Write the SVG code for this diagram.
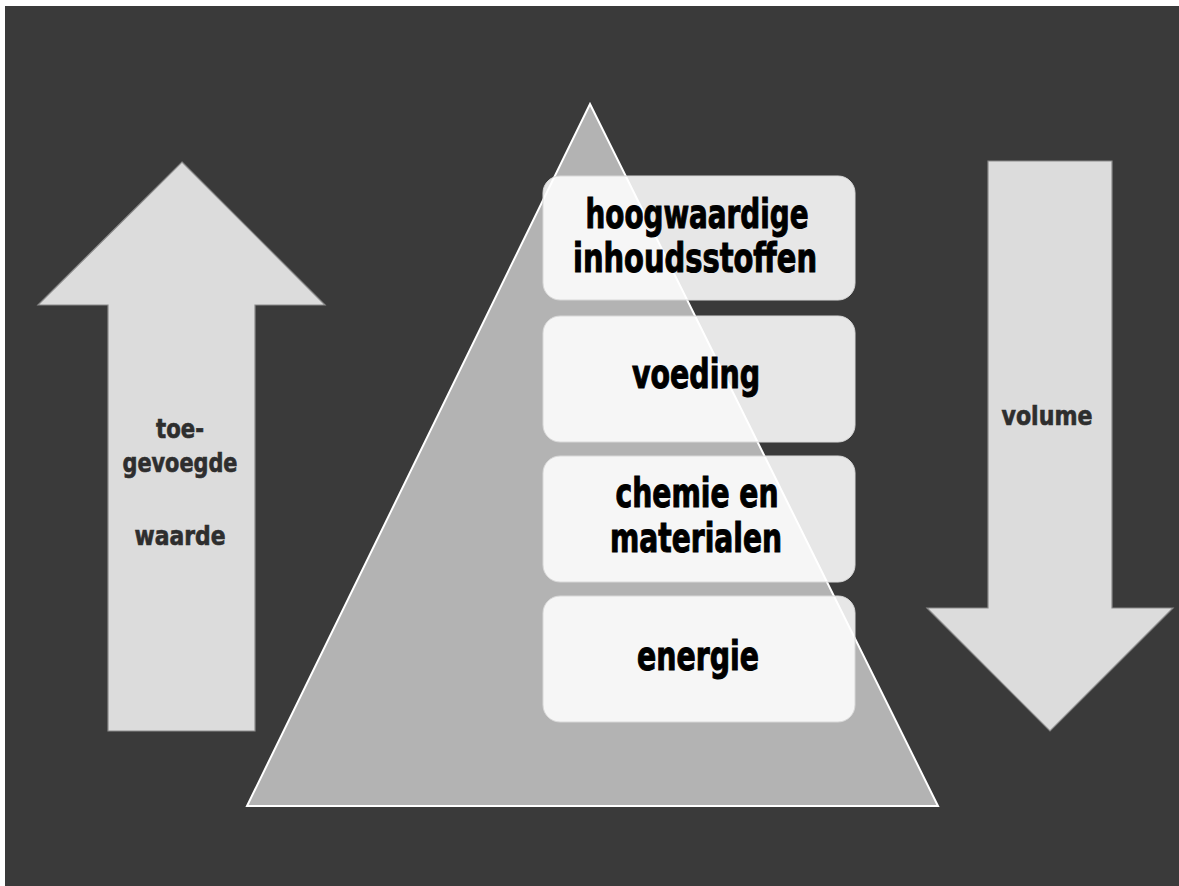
<svg xmlns="http://www.w3.org/2000/svg" width="1179" height="886" viewBox="0 0 1179 886">
<style>
.arrow{fill:#dcdcdc;stroke:#8a8a8a;stroke-width:1.2}
.box{fill:#ffffff;fill-opacity:0.88;stroke:#d8d8d8;stroke-width:1}
.big{font-family:Impact,"DejaVu Sans Condensed","DejaVu Sans",sans-serif;font-weight:bold;font-size:40px;fill:#000;stroke:#000;stroke-width:1;text-anchor:middle}
.small{font-family:Impact,"DejaVu Sans Condensed","DejaVu Sans",sans-serif;font-weight:bold;font-size:26px;fill:#2e2e2e;stroke:#2e2e2e;stroke-width:0.6;text-anchor:middle}
</style>
<rect x="0" y="0" width="1179" height="886" fill="#ffffff"/>
<rect x="5" y="6" width="1200" height="900" fill="#3a3a3a"/>
<g id="arrow-up">
<polygon class="arrow" points="182,162 325,305 255,305 255,731 108,731 108,305 38,305"/>
<text class="small" x="180" y="438" textLength="48" lengthAdjust="spacingAndGlyphs">toe-</text>
<text class="small" x="180" y="472" textLength="115" lengthAdjust="spacingAndGlyphs">gevoegde</text>
<text class="small" x="180" y="545" textLength="91" lengthAdjust="spacingAndGlyphs">waarde</text>
</g>
<g id="arrow-down">
<polygon class="arrow" points="988,161 1112,161 1112,608 1173,608 1050,731 927,608 988,608"/>
<text class="small" x="1047" y="425" textLength="91" lengthAdjust="spacingAndGlyphs">volume</text>
</g>
<g id="pyramid">
<polygon points="590,104 938,806 247,806" fill="#b3b3b3" stroke="#ffffff" stroke-width="2"/>
</g>
<g id="box1">
<rect class="box" x="543" y="176" width="312" height="124" rx="17"/>
<text class="big" x="697" y="228" textLength="223" lengthAdjust="spacingAndGlyphs">hoogwaardige</text>
<text class="big" x="695" y="272" textLength="244" lengthAdjust="spacingAndGlyphs">inhoudsstoffen</text>
</g>
<g id="box2">
<rect class="box" x="543" y="316" width="312" height="126" rx="17"/>
<text class="big" x="696" y="388" textLength="128" lengthAdjust="spacingAndGlyphs">voeding</text>
</g>
<g id="box3">
<rect class="box" x="543" y="456" width="312" height="126" rx="17"/>
<text class="big" x="697" y="507" textLength="163" lengthAdjust="spacingAndGlyphs">chemie en</text>
<text class="big" x="696" y="552" textLength="172" lengthAdjust="spacingAndGlyphs">materialen</text>
</g>
<g id="box4">
<rect class="box" x="543" y="596" width="312" height="126" rx="17"/>
<text class="big" x="698" y="670" textLength="122" lengthAdjust="spacingAndGlyphs">energie</text>
</g>
<g id="connectors"></g>
</svg>
